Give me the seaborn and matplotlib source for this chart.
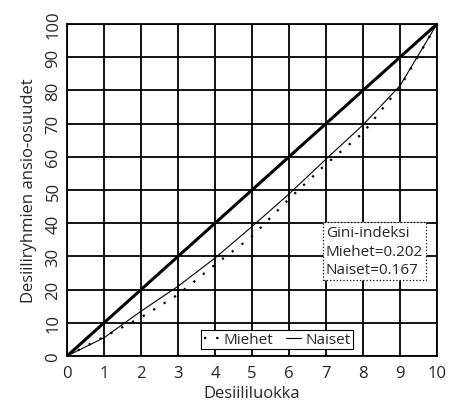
import matplotlib
matplotlib.use("Agg")
import matplotlib.pyplot as plt
from matplotlib import font_manager
import seaborn as sns
import pandas as pd

deciles = [0, 1, 2, 3, 4, 5, 6, 7, 8, 9, 10]
miehet = [0, 5.8, 11.6, 18.5, 27.5, 36, 47.3, 57.8, 67.2, 81, 100]
naiset = [0, 5.5, 13.5, 21, 29.5, 39, 48.8, 59.3, 69.6, 81.4, 100]
equality = [0, 10, 20, 30, 40, 50, 60, 70, 80, 90, 100]
xticks = list(range(0, 11))
yticks = list(range(0, 101, 10))
gini_text = "Gini-indeksi\nMiehet=0.202\nNaiset=0.167"

sns.set_style("white")
names = {f.name for f in font_manager.fontManager.ttflist}
fam = "Liberation Sans Narrow" if "Liberation Sans Narrow" in names else "Open Sans"
plt.rcParams["font.family"] = [fam, "DejaVu Sans"]

df = pd.DataFrame({"x": deciles, "Miehet": miehet, "Naiset": naiset, "eq": equality})

fig = plt.figure(figsize=(4.5, 4.06), dpi=100)
ax = fig.add_axes([0.149, 0.1207, 0.822, 0.8177])

sns.lineplot(data=df, x="x", y="eq", ax=ax, color="black", linewidth=2.2, legend=False)
sns.lineplot(data=df, x="x", y="Miehet", ax=ax, color="black", linewidth=1.6,
             linestyle=(0, (1, 4.5)), label="Miehet")
sns.lineplot(data=df, x="x", y="Naiset", ax=ax, color="black", linewidth=0.8,
             label="Naiset")

ax.set_xlim(0, 10)
ax.set_ylim(0, 100)
ax.set_xticks(xticks)
ax.set_yticks(yticks)
ax.grid(True, color="black", linewidth=1.3)
ax.set_axisbelow(True)
for s in ax.spines.values():
    s.set_color("black")
    s.set_linewidth(1.3)
ax.tick_params(axis="both", labelsize=12, length=3, color="black", direction="out")
ax.tick_params(axis="y", pad=1)
for lab in ax.get_yticklabels():
    lab.set_rotation(90)
    lab.set_va("center")
ax.set_xlabel("Desiililuokka", fontsize=12, labelpad=3)
ax.set_ylabel("Desiiliryhmien ansio-osuudet", fontsize=12, labelpad=6)

leg = ax.legend(loc="lower center", bbox_to_anchor=(0.568, 0.02), ncol=2, fontsize=11,
                frameon=True, fancybox=False, handlelength=1.0, handletextpad=0.3,
                columnspacing=0.8, borderpad=0.15, borderaxespad=0)
leg.get_frame().set_edgecolor("black")
leg.get_frame().set_linewidth(0.8)
leg.get_frame().set_alpha(1)

ax.text(0.70, 0.316, gini_text, transform=ax.transAxes, fontsize=11, va="center",
        ha="left", linespacing=1.3,
        bbox=dict(boxstyle="square,pad=0.2", facecolor="white", edgecolor="black",
                  linestyle=":", linewidth=0.9))

fig.savefig("out.png", dpi=100)
